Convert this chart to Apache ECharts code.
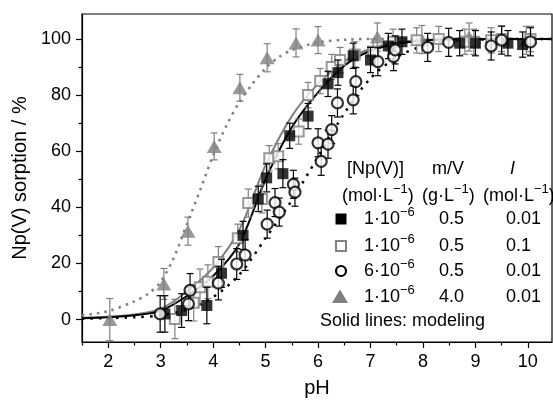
<!DOCTYPE html>
<html><head><meta charset="utf-8">
<script src="https://cdn.jsdelivr.net/npm/echarts@6/dist/echarts.min.js"></script>
<style>html,body{margin:0;padding:0;background:#fff}#c{width:553px;height:403px}</style>
</head><body><div id="c"></div>
<script>
// ---- tick labels ----
const xTickLabels = [2, 3, 4, 5, 6, 7, 8, 9, 10];
const xMinorTicks = [1.5, 2.5, 3.5, 4.5, 5.5, 6.5, 7.5, 8.5, 9.5];
const yTickLabels = [0, 20, 40, 60, 80, 100];
const yMinorTicks = [10, 30, 50, 70, 90];

// ---- measured data: 1e-6 M, 0.5 g/L, I=0.01 (filled squares) ----
const pH_sq = [3.08, 3.4, 3.88, 4.16, 4.57, 4.86, 5.02, 5.33, 5.46, 5.81, 6.19, 6.38, 6.67, 7.0, 7.34, 7.6, 8.7, 9.0, 9.62, 9.9];
const sorp_sq = [2, 3.2, 5, 16.5, 30, 43, 50.5, 52, 65.5, 72.5, 84, 88, 94, 92.5, 97.5, 99, 98.5, 98.5, 98.5, 98];
const err_sq = [6.5, 6, 6.5, 5, 5, 4.5, 5, 5, 4.5, 4.5, 4.5, 4.5, 4.5, 4.5, 4.5, 4.5, 4.5, 4.5, 4.5, 4.5];

// ---- 1e-6 M, 0.5 g/L, I=0.1 (open grey squares) ----
const pH_osq = [3.27, 3.63, 3.75, 3.9, 4.1, 4.47, 4.67, 4.93, 5.07, 5.24, 5.63, 5.81, 6.04, 6.26, 6.42, 6.7, 7.05, 7.43, 7.88, 8.3, 8.8, 8.97, 9.3, 9.5, 10.05];
const sorp_osq = [0.2, 6, 11.5, 13.5, 20.5, 29, 41.5, 43, 57.5, 58.2, 67, 80, 85, 90, 92.5, 94.5, 95.5, 99, 99.5, 100, 99, 99, 99.5, 100, 100];
const err_osq = [7, 6.5, 6.5, 6, 5.5, 5, 5, 5, 4.5, 4.5, 4.5, 4.5, 4.5, 4.5, 4.5, 4.5, 4.5, 4.5, 4.5, 4.5, 4.5, 4.5, 4.5, 4.5, 4.5];

// ---- 6e-6 M, 0.5 g/L, I=0.01 (open circles) ----
const pH_ci = [2.99, 3.53, 3.56, 4.1, 4.45, 4.61, 5.03, 5.18, 5.26, 5.53, 5.56, 6.0, 6.06, 6.19, 6.26, 6.37, 6.67, 6.72, 7.14, 7.44, 7.47, 8.09, 8.49, 9.3, 9.5, 10.05];
const sorp_ci = [2, 5.6, 10.4, 13, 19.8, 23, 34, 41.7, 38.3, 48.2, 45.4, 63, 56.4, 62.5, 67.7, 77.2, 78.3, 84.8, 91.9, 93.7, 96.1, 97, 98.8, 97.5, 99.6, 99];
const err_ci = [6.5, 6, 6, 6, 5.5, 5.5, 5, 5, 5, 5, 5, 5, 5, 5, 5, 5, 5, 5, 5, 5, 5, 5, 5, 5, 5, 5];

// ---- 1e-6 M, 4.0 g/L, I=0.01 (grey triangles) ----
const pH_tr = [2.03, 3.06, 3.52, 4.02, 4.51, 5.03, 5.58, 6.0, 7.13, 7.98, 8.88, 9.97];
const sorp_tr = [0, 12.7, 31.5, 61.7, 82.6, 93.3, 98.6, 99.6, 100.7, 99.8, 100.7, 99.5];
const err_tr = [7.5, 5.5, 5, 4.8, 4.8, 5, 5, 4.8, 5, 5, 5, 5];

// ---- modeling curves ----
const pH_fitSq = [1.5, 2, 2.5, 3, 3.5, 4, 4.5, 5, 5.5, 6, 6.5, 7, 7.5, 8, 8.5, 9, 10.46];
const sorp_fitSq = [0.5, 0.8, 1.5, 3.1, 8.4, 15.5, 27, 50, 68.5, 81, 90.5, 95.8, 98.3, 99.4, 99.9, 100, 100];
const pH_fitOsq = [1.5, 2, 2.5, 3, 3.5, 4, 4.5, 5, 5.5, 6, 6.5, 7, 7.5, 8, 9, 10.46];
const sorp_fitOsq = [0.6, 1, 1.8, 3.8, 10, 18.5, 32, 55, 72.5, 84, 92, 96.5, 98.8, 99.6, 100, 100];
const pH_fitCi = [1.5, 2.5, 3, 3.5, 4, 4.5, 5, 5.5, 6, 6.5, 7, 7.5, 8, 8.5, 9, 10.46];
const sorp_fitCi = [0.3, 0.8, 1.5, 3.5, 8, 16, 29, 42.5, 58, 73.5, 86, 93.5, 97.5, 99.2, 99.8, 100];
const pH_fitTr = [1.5, 2, 2.5, 2.75, 3, 3.25, 3.5, 3.75, 4, 4.25, 4.5, 4.75, 5, 5.25, 5.5, 6, 6.5, 7, 10.46];
const sorp_fitTr = [1.5, 3, 6.5, 9, 13.5, 22, 34, 46, 58.5, 69, 77.5, 84, 89.5, 93.5, 96, 98.8, 99.7, 100, 100];

// ---- legend table ----
const legConc = ['1·10', '1·10', '6·10', '1·10'];
const legMV = ['0.5', '0.5', '0.5', '4.0'];
const legI = ['0.01', '0.1', '0.01', '0.01'];

const FF = "'Liberation Sans', Arial, sans-serif";
const GRAY = '#808080';
const zip = (a, b) => a.map((v, i) => [v, b[i]]);
const zip3 = (a, b, c) => a.map((v, i) => [v, b[i], c[i]]);

function errRender(color) {
  return function (params, api) {
    const x = api.value(0), y = api.value(1), e = api.value(2);
    const p1 = api.coord([x, y + e]), p2 = api.coord([x, y - e]);
    const hw = 3.5;
    const st = { stroke: color, lineWidth: 1.2 };
    return { type: 'group', children: [
      { type: 'line', shape: { x1: p1[0], y1: p1[1], x2: p2[0], y2: p2[1] }, style: st },
      { type: 'line', shape: { x1: p1[0] - hw, y1: p1[1], x2: p1[0] + hw, y2: p1[1] }, style: st },
      { type: 'line', shape: { x1: p2[0] - hw, y1: p2[1], x2: p2[0] + hw, y2: p2[1] }, style: st }
    ]};
  };
}

const chart = echarts.init(document.getElementById('c'), null, { renderer: 'canvas' });

const supRich = {
  a: { fontSize: 18, fontFamily: FF, lineHeight: 22, verticalAlign: 'bottom', fill: '#000' },
  s: { fontSize: 13, fontFamily: FF, lineHeight: 22, verticalAlign: 'top', fill: '#000' }
};
function rtxt(x, y, text) {
  return { type: 'text', x: x, y: y, style: { text: text, rich: supRich, verticalAlign: 'middle', align: 'left', fill: '#000' } };
}
function ptxt(x, y, text, italic) {
  return { type: 'text', x: x, y: y, style: { text: text, font: (italic ? 'italic ' : '') + '18px ' + FF, fill: '#000', verticalAlign: 'middle', align: 'left' } };
}

const rowY = [219, 246, 271, 297];
const graphics = [
  ptxt(347, 169, '[Np(V)]'), ptxt(432, 169, 'm/V'), ptxt(510, 169, 'I', true),
  rtxt(342, 194, '{a|(mol·L}{s|−1}{a|)}'), rtxt(422, 194, '{a|(g·L}{s|−1}{a|)}'), rtxt(483, 194, '{a|(mol·L}{s|−1}{a|)}'),
  { type: 'rect', shape: { x: 335.5, y: rowY[0] - 5.5, width: 11, height: 11 }, style: { fill: '#000' } },
  { type: 'rect', shape: { x: 336, y: rowY[1] - 5, width: 10, height: 10 }, style: { fill: '#fff', stroke: GRAY, lineWidth: 2 } },
  { type: 'circle', shape: { cx: 341, cy: rowY[2], r: 5 }, style: { fill: '#fff', stroke: '#000', lineWidth: 2.2 } },
  { type: 'polygon', shape: { points: [[340, rowY[3] - 7.5], [348, rowY[3] + 6], [332, rowY[3] + 6]] }, style: { fill: GRAY } },
  ptxt(320, 321, 'Solid lines: modeling')
];
for (let i = 0; i < 4; i++) {
  graphics.push(rtxt(364, rowY[i] - 2, '{a|' + legConc[i] + '}{s|−6}'));
  graphics.push(ptxt(439, rowY[i], legMV[i]));
  graphics.push(ptxt(506, rowY[i], legI[i]));
}

const axisTxt = { color: '#000', fontSize: 18, fontFamily: FF };

const option = {
  animation: false,
  backgroundColor: '#fff',
  grid: { left: 82, right: 1, top: 14, bottom: 60, show: true, borderColor: '#000', borderWidth: 1.2, backgroundColor: 'transparent' },
  xAxis: [
    { type: 'value', min: 1.5, max: 10.46, name: 'pH', nameLocation: 'middle', nameGap: 36,
      nameTextStyle: { color: '#000', fontSize: 20, fontFamily: FF },
      axisLine: { show: true, onZero: false, lineStyle: { color: '#000', width: 1.2 } },
      axisTick: { show: true, inside: false, length: 6, lineStyle: { color: '#000', width: 1.2 }, customValues: xTickLabels },
      axisLabel: { show: true, margin: 11, customValues: xTickLabels, ...axisTxt },
      splitLine: { show: false } },
    { type: 'value', min: 1.5, max: 10.46, position: 'bottom',
      axisLine: { show: false, onZero: false }, axisLabel: { show: false }, splitLine: { show: false },
      axisTick: { show: true, inside: false, length: 3.5, lineStyle: { color: '#000', width: 1.2 }, customValues: xMinorTicks } }
  ],
  yAxis: [
    { type: 'value', min: -8, max: 108.9, name: 'Np(V) sorption / %', nameLocation: 'middle', nameGap: 50, nameRotate: 90,
      nameTextStyle: { color: '#000', fontSize: 20, fontFamily: FF },
      axisLine: { show: true, onZero: false, lineStyle: { color: '#000', width: 1.2 } },
      axisTick: { show: true, inside: false, length: 6, lineStyle: { color: '#000', width: 1.2 }, customValues: yTickLabels },
      axisLabel: { show: true, margin: 11, customValues: yTickLabels, ...axisTxt },
      splitLine: { show: false } },
    { type: 'value', min: -8, max: 108.9, position: 'left',
      axisLine: { show: false, onZero: false }, axisLabel: { show: false }, splitLine: { show: false },
      axisTick: { show: true, inside: false, length: 3.5, lineStyle: { color: '#000', width: 1.2 }, customValues: yMinorTicks } }
  ],
  graphic: graphics,
  series: [
    { type: 'line', data: zip(pH_fitTr, sorp_fitTr), smooth: 0.3, showSymbol: false, z: 1,
      lineStyle: { color: GRAY, width: 2.5, type: [2.5, 5] } },
    { type: 'line', data: zip(pH_fitCi, sorp_fitCi), smooth: 0.3, showSymbol: false, z: 1,
      lineStyle: { color: '#000', width: 2.5, type: [2.5, 6] } },
    { type: 'line', data: zip(pH_fitOsq, sorp_fitOsq), smooth: 0.3, showSymbol: false, z: 1,
      lineStyle: { color: GRAY, width: 2 } },
    { type: 'line', data: zip(pH_fitSq, sorp_fitSq), smooth: 0.3, showSymbol: false, z: 1,
      lineStyle: { color: '#000', width: 2 } },

    { type: 'custom', data: zip3(pH_tr, sorp_tr, err_tr), renderItem: errRender(GRAY), z: 2 },
    { type: 'scatter', data: zip(pH_tr, sorp_tr), symbol: 'triangle', symbolSize: [15, 13], z: 3,
      itemStyle: { color: GRAY } },
    { type: 'custom', data: zip3(pH_osq, sorp_osq, err_osq), renderItem: errRender(GRAY), z: 4 },
    { type: 'scatter', data: zip(pH_osq, sorp_osq), symbol: 'rect', symbolSize: 10, z: 5,
      itemStyle: { color: '#fff', borderColor: GRAY, borderWidth: 2 } },
    { type: 'custom', data: zip3(pH_sq, sorp_sq, err_sq), renderItem: errRender('#000'), z: 6 },
    { type: 'scatter', data: zip(pH_sq, sorp_sq), symbol: 'rect', symbolSize: 11, z: 7,
      itemStyle: { color: '#000' } },
    { type: 'custom', data: zip3(pH_ci, sorp_ci, err_ci), renderItem: errRender('#000'), z: 8 },
    { type: 'scatter', data: zip(pH_ci, sorp_ci), symbol: 'circle', symbolSize: 11, z: 9,
      itemStyle: { color: '#fff', borderColor: '#000', borderWidth: 2.2 } }
  ]
};
chart.setOption(option);
</script>
</body></html>
